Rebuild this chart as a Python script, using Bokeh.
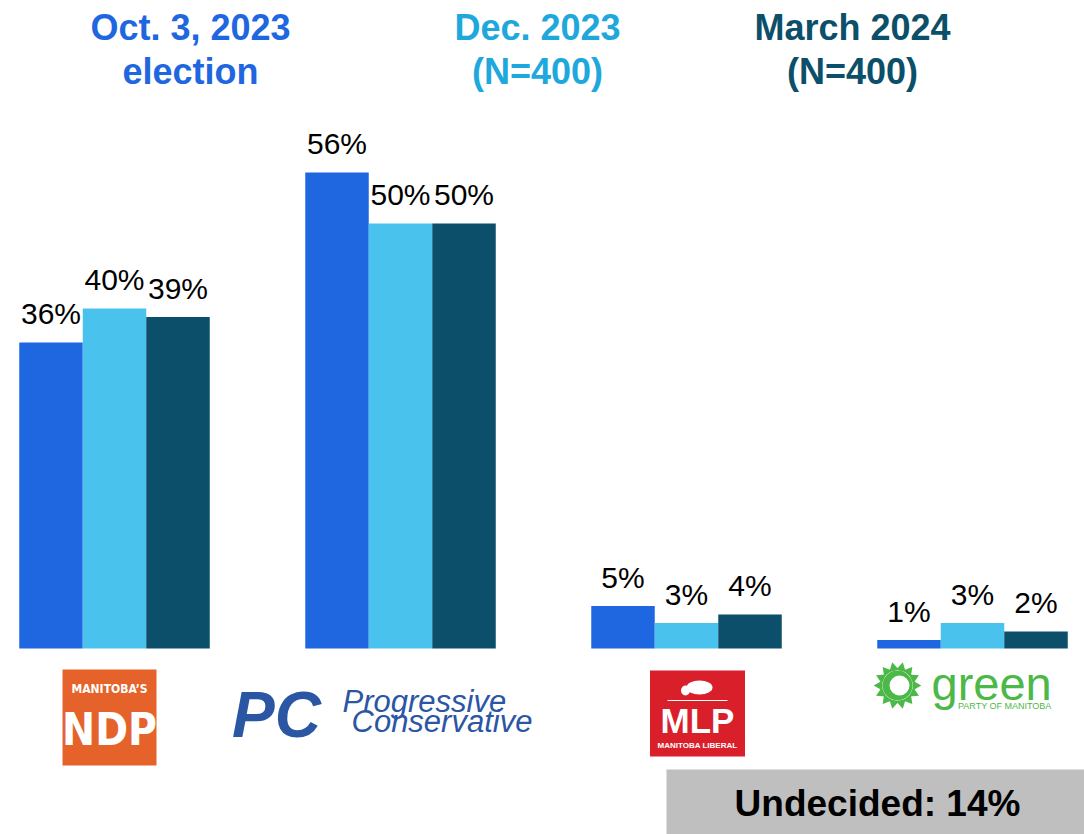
import math
from bokeh.plotting import figure
from bokeh.models import Range1d, ColumnDataSource
from bokeh.core.properties import value
from bokeh.embed import file_html
from bokeh.resources import INLINE

# ---------------- data ----------------
parties = ["NDP", "PC", "MLP", "Green"]
series_names = ["Oct. 3, 2023 election", "Dec. 2023 (N=400)", "March 2024 (N=400)"]
oct_2023 = [36, 56, 5, 1]
dec_2023 = [40, 50, 3, 3]
mar_2024 = [39, 50, 4, 2]
undecided = 14

colors = ["#1f67e0", "#4ac2ee", "#0b4f6a"]
header_colors = ["#1f67e0", "#1ea8dc", "#0b4f6a"]

# ---------------- geometry ----------------
W, H = 1084, 834
ORIGIN = 0
GROUP_PX = 286.0          # px per category
PX_PER_PCT = 8.5
BASE_PY = 648.0           # baseline pixel (page coords)
x_start = -(114 - ORIGIN) / GROUP_PX
x_end = x_start + W / GROUP_PX
y_start = -(ORIGIN + H - BASE_PY) / PX_PER_PCT
y_end = (BASE_PY - ORIGIN) / PX_PER_PCT


def X(px):
    return x_start + (px - ORIGIN) / GROUP_PX


def Y(py):
    return (BASE_PY - py) / PX_PER_PCT


def dx(px):
    return px / GROUP_PX


def dy(px):
    return px / PX_PER_PCT


p = figure(width=W, height=H, output_backend="svg", toolbar_location=None,
           x_range=Range1d(x_start, x_end), y_range=Range1d(y_start, y_end),
           min_border=0, min_border_left=0, min_border_right=0,
           min_border_top=0, min_border_bottom=0)
p.axis.visible = False
p.grid.visible = False
p.outline_line_color = None
p.background_fill_color = "white"
p.border_fill_color = "white"

bar_w = 63.5 / GROUP_PX
offsets = [-bar_w, 0.0, bar_w]
FONT = value("Liberation Sans")

for k, vals in enumerate([oct_2023, dec_2023, mar_2024]):
    xs = [i + offsets[k] for i in range(len(parties))]
    src = ColumnDataSource(dict(x=xs, top=vals,
                                lab=[f"{v}%" for v in vals],
                                ly=[v + dy(29) for v in vals]))
    p.vbar(x="x", top="top", bottom=0, width=bar_w, source=src,
           fill_color=colors[k], line_color=None)
    p.text(x="x", y="ly", text="lab", source=src, text_align="center",
           text_baseline="alphabetic", text_font=FONT,
           text_font_size="30px", text_color="black")

# ---------------- headers ----------------
headers = [("Oct. 3, 2023", "election", 190), ("Dec. 2023", "(N=400)", 537),
           ("March 2024", "(N=400)", 852)]
for k, (l1, l2, cx) in enumerate(headers):
    p.text(x=[X(cx), X(cx)], y=[Y(27), Y(71)], text=[l1, l2],
           text_align="center", text_baseline="middle", text_font=FONT,
           text_font_style="bold", text_font_size="36px",
           text_color=header_colors[k])

# ---------------- logos ----------------
# NDP
ndp_c = 0 + dx(109 - 114)
p.rect(x=[ndp_c], y=[Y(717)], width=dx(94), height=dy(96),
       fill_color="#e5632a", line_color=None)
p.text(x=[ndp_c], y=[Y(688)], text=["MANITOBA\u2019S"], text_align="center",
       text_baseline="middle", text_font=value("DejaVu Sans Condensed"),
       text_font_style="bold", text_font_size="12px", text_color="white")
p.text(x=[ndp_c], y=[Y(729)], text=["NDP"], text_align="center",
       text_baseline="middle", text_font=value("DejaVu Sans Condensed"),
       text_font_style="bold", text_font_size="44px", text_color="white")

# PC
pc_blue = "#2b56a3"
p.text(x=[1 + dx(276 - 400)], y=[Y(714)], text=["PC"], text_align="center",
       text_baseline="middle", text_font=value("Liberation Sans"),
       text_font_style="bold italic", text_font_size="64px", text_color=pc_blue)
p.text(x=[1 + dx(342 - 400), 1 + dx(351 - 400)], y=[Y(701), Y(721)],
       text=["Progressive", "Conservative"], text_align="left",
       text_baseline="middle", text_font=value("Liberation Sans"),
       text_font_style="italic", text_font_size="31px", text_color=pc_blue)

# MLP
mlp_c = 2 + dx(696 - 685)
p.rect(x=[mlp_c], y=[Y(713)], width=dx(95), height=dy(86),
       fill_color="#d9202a", line_color=None)
p.ellipse(x=[mlp_c + dx(2)], y=[Y(687)], width=dx(26), height=dy(14),
          fill_color="white", line_color=None)
p.ellipse(x=[mlp_c - dx(12)], y=[Y(690)], width=dx(9), height=dy(10),
          fill_color="white", line_color=None)
p.segment(x0=[mlp_c - dx(30)], y0=[Y(700)], x1=[mlp_c + dx(30)], y1=[Y(700)],
          line_color="white", line_width=1)
p.text(x=[mlp_c], y=[Y(720)], text=["MLP"], text_align="center",
       text_baseline="middle", text_font=value("Liberation Sans"),
       text_font_style="bold", text_font_size="35px", text_color="white")
p.text(x=[mlp_c], y=[Y(745)], text=["MANITOBA LIBERAL"], text_align="center",
       text_baseline="middle", text_font=value("Liberation Sans"),
       text_font_style="bold", text_font_size="8px", text_color="white")

# Green
g_green = "#4cb848"
gx, gy = 3 + dx(896 - 971), Y(685)
ang = [2 * math.pi * j / 14 for j in range(14)]
p.scatter(x=[gx + dx(18 * math.cos(a)) for a in ang],
          y=[gy + dy(18 * math.sin(a)) for a in ang],
          marker="triangle", size=10, angle=[a - math.pi / 2 for a in ang],
          fill_color=g_green, line_color=None)
p.circle(x=[gx], y=[gy], radius=dx(15), fill_color=g_green, line_color=None)
p.circle(x=[gx + dx(2)], y=[gy], radius=dx(10), fill_color="white", line_color=None)
p.text(x=[3 + dx(930 - 971)], y=[Y(683)], text=["green"], text_align="left",
       text_baseline="middle", text_font=value("Liberation Sans"),
       text_font_size="47px", text_color=g_green)
p.text(x=[3 + dx(1050 - 971)], y=[Y(705)], text=["PARTY OF MANITOBA"],
       text_align="right", text_baseline="middle", text_font=value("Liberation Sans"),
       text_font_size="9px", text_color=g_green)

# Undecided box
p.quad(left=[X(666)], right=[X(1084)], top=[Y(769)], bottom=[Y(834)],
       fill_color="#bfbfbf", line_color=None)
p.text(x=[X(877)], y=[Y(803)], text=[f"Undecided: {undecided}%"],
       text_align="center", text_baseline="middle", text_font=FONT,
       text_font_style="bold", text_font_size="37px", text_color="black")

open("out.html", "w").write(file_html(p, INLINE))
